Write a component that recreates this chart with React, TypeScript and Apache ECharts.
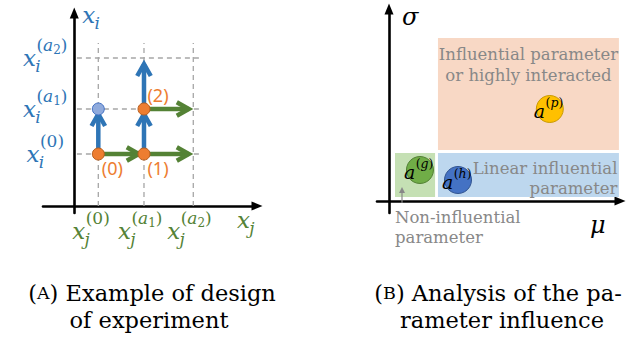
import React, { useEffect, useRef } from 'react';
import * as echarts from 'echarts';

// ---------------- Panel (A): example of design of experiment ----------------
const xjLevels = [1.0, 2.9, 4.95];            // x_j^(0), x_j^(a1), x_j^(a2)
const xiLevels = [1.04, 1.94, 2.96];          // x_i^(0), x_i^(a1), x_i^(a2)
const xjTickSup = ['(0)', '(a_1)', '(a_2)'];
const xiTickSup = ['(0)', '(a_1)', '(a_2)'];
const designPoints = [[1.0, 1.04], [2.9, 1.04], [2.9, 1.94]];
const designLabels = ['(0)', '(1)', '(2)'];
const skippedPoints = [[1.0, 1.94]];
const blueArrows = [[1.0, 1.04, 1.0, 1.92], [2.9, 1.04, 2.9, 1.92], [2.9, 1.94, 2.9, 2.92]];
const greenArrows = [[1.0, 1.04, 2.85, 1.04], [2.9, 1.04, 4.93, 1.04], [2.9, 1.94, 4.93, 1.94]];
const guideTopA = 3.26;
const guideLeftA = 0.11;
const guideRightA = 5.35;
const xRangeA = [-1.3, 7.6];
const yRangeA = [-0.14, 3.86];

// ---------------- Panel (B): analysis of the parameter influence ----------------
const regionLabels = ['Influential parameter\nor highly interacted', 'Linear influential\nparameter', 'Non-influential\nparameter'];
const regionMu = [[2.04, 9.58], [2.04, 9.58], [0.25, 1.92]];
const regionSigma = [[2.55, 8.15], [0.2, 2.4], [0.2, 2.4]];
const paramNames = ['p', 'g', 'h'];
const paramMu = [6.7, 1.29, 2.875];
const paramSigma = [4.6, 1.55, 1.05];
const xRangeB = [-0.5, 9.625];
const yRangeB = [-0.6, 9.6];

const captionA = ['Example of design', 'of experiment'];
const captionB = ['Analysis of the pa-', 'rameter influence'];

// ---------------- styles ----------------
const BLUE = '#2E75B6';
const GREEN = '#548235';
const ORANGE = '#ED7D31';
const GREY = '#888888';
const REGION_FILL = ['#F8D8C5', '#BDD7EE', '#C5E0B4'];
const PARAM_FILL = ['#FFC000', '#70AD47', '#4472C4'];
const PARAM_EDGE = ['#C99A00', '#507E32', '#2F528F'];
const MATH = 'DejaVu Serif';
const TEXT = 'DejaVu Serif';

type F = { size: number; italic: boolean; family: string };
let measureCtx: CanvasRenderingContext2D | null = null;
function tw(text: string, f: F) {
  if (!measureCtx) measureCtx = document.createElement('canvas').getContext('2d');
  measureCtx!.font = `${f.italic ? 'italic ' : ''}${f.size}px "${f.family}"`;
  return measureCtx!.measureText(text).width;
}
function fontOf(size: number, italic: boolean): F {
  return { size, italic, family: MATH };
}
function txt(text: string, x: number, y: number, f: F, color: string, align = 'left', va = 'middle', extra: any = {}) {
  return {
    type: 'text', x, y,
    style: {
      text, fontSize: f.size, fontFamily: f.family, fontStyle: f.italic ? 'italic' : 'normal',
      fill: color, align, verticalAlign: va, ...extra,
    },
  };
}
function scriptPieces(str: string, size: number, x0: number, y0: number, color: string) {
  const els: any[] = [];
  let x = x0;
  for (let k = 0; k < str.length; k++) {
    let ch = str[k];
    if (ch === '_') {
      ch = str[++k];
      const f = fontOf(Math.round(size * 0.7), false);
      els.push(txt(ch, x, y0 + size * 0.3, f, color));
      x += tw(ch, f);
      continue;
    }
    const it = /[a-z]/i.test(ch);
    const f = fontOf(size, it);
    els.push(txt(ch, x, y0, f, color));
    x += tw(ch, f);
  }
  return { els, width: x - x0 };
}
type Spec = { base: string; sub: string; sup: string; color: string; B: number; S: number; supDy: number; align: 'left' | 'center'; dx: number; dy: number };
function mathLabel(spec: Spec) {
  const fb = fontOf(spec.B, true);
  const wb = tw(spec.base, fb);
  const els: any[] = [txt(spec.base, 0, 0, fb, spec.color)];
  let w = wb;
  if (spec.sub) {
    const fs = fontOf(spec.S, true);
    els.push(txt(spec.sub, wb - spec.B * 0.03, spec.B * 0.33, fs, spec.color));
    w = Math.max(w, wb + tw(spec.sub, fs));
  }
  if (spec.sup) {
    const r = scriptPieces(spec.sup, spec.S, wb + spec.B * 0.02, -spec.B * spec.supDy, spec.color);
    els.push(...r.els);
    w = Math.max(w, wb + spec.B * 0.02 + r.width);
  }
  const shift = spec.align === 'center' ? -w / 2 : 0;
  return { type: 'group', x: spec.dx + shift, y: spec.dy, children: els };
}

function arrowRender(color: string) {
  return (params: any, api: any) => {
    const s = api.coord([api.value(0), api.value(1)]);
    const e = api.coord([api.value(2), api.value(3)]);
    const dx = e[0] - s[0], dy = e[1] - s[1];
    const len = Math.hypot(dx, dy);
    const ux = dx / len, uy = dy / len;
    const vx = e[0] - ux * 4, vy = e[1] - uy * 4;
    const head = 12, half = 6.8;
    const bx = vx - ux * head, by = vy - uy * head;
    const px = -uy, py = ux;
    return {
      type: 'group',
      children: [
        { type: 'line', shape: { x1: s[0], y1: s[1], x2: vx, y2: vy }, style: { stroke: color, lineWidth: 4.5 } },
        {
          type: 'polyline',
          shape: { points: [[bx + px * half, by + py * half], [vx, vy], [bx - px * half, by - py * half]] },
          style: { stroke: color, lineWidth: 4.5, fill: null, lineJoin: 'miter' },
        },
      ],
    };
  };
}

function axisCommon(extra: any) {
  return {
    type: 'value',
    axisLine: { show: true, onZero: true, lineStyle: { color: '#000', width: 2.6 }, symbol: ['none', 'triangle'], symbolSize: [9, 11] },
    axisTick: { show: false },
    axisLabel: { show: false },
    splitLine: { show: false },
    ...extra,
  };
}

export default function App() {
  const ref = useRef<HTMLDivElement>(null);
  useEffect(() => {
    if (!ref.current) return;
    const chart = echarts.init(ref.current, undefined, { renderer: 'svg' });

    const specsA: { at: number[]; spec: Spec }[] = [
      ...xiLevels.map((v, i) => ({ at: [0, v], spec: { base: 'x', sub: 'i', sup: xiTickSup[i], color: BLUE, B: 23, S: 17, supDy: 0.55, align: 'center' as const, dx: -29, dy: 0 } })),
      ...xjLevels.map((v, i) => ({ at: [v, 0], spec: { base: 'x', sub: 'j', sup: xjTickSup[i], color: GREEN, B: 23, S: 17, supDy: 0.55, align: 'left' as const, dx: -26, dy: 25 } })),
      { at: [0, yRangeA[1]], spec: { base: 'x', sub: 'i', sup: '', color: BLUE, B: 23, S: 17, supDy: 0.55, align: 'left', dx: 8, dy: 2 } },
      { at: [xRangeA[1], 0], spec: { base: 'x', sub: 'j', sup: '', color: GREEN, B: 23, S: 17, supDy: 0.55, align: 'left', dx: -20, dy: 14 } },
    ];
    const specsB: { at: number[]; spec: Spec }[] = [
      { at: [0, yRangeB[1]], spec: { base: 'σ', sub: '', sup: '', color: '#000', B: 24, S: 16, supDy: 0.5, align: 'left', dx: 13, dy: 8 } },
      { at: [xRangeB[1], 0], spec: { base: 'μ', sub: '', sup: '', color: '#000', B: 24, S: 16, supDy: 0.5, align: 'left', dx: -30, dy: 24 } },
      ...paramNames.map((n, i) => ({ at: [paramMu[i], paramSigma[i]], spec: { base: 'a', sub: '', sup: '(' + n + ')', color: '#000', B: 19, S: 12.5, supDy: 0.45, align: 'left' as const, dx: -16, dy: 2 } })),
    ];

    const labelSeries = (specs: { at: number[]; spec: Spec }[], idx: number) => ({
      type: 'custom',
      xAxisIndex: idx,
      yAxisIndex: idx,
      clip: false,
      z: 10,
      data: specs.map((s) => s.at),
      encode: { x: 0, y: 1 },
      renderItem: (params: any, api: any) => {
        const p = api.coord([api.value(0), api.value(1)]);
        const g: any = mathLabel(specs[params.dataIndex].spec);
        return { type: 'group', x: p[0], y: p[1], children: [g] };
      },
    });

    const guides = [
      ...xjLevels.map((v) => [v, 0, v, guideTopA]),
      ...xiLevels.map((v) => [guideLeftA, v, guideRightA, v]),
    ];

    const textF: F = { size: 16.5, italic: false, family: TEXT };
    const CAP = 22.5;
    const capText = (t: string, x: number, y: number) => ({
      type: 'text', x, y,
      style: { text: t, fontSize: CAP, fontFamily: TEXT, fill: '#000', align: 'center', verticalAlign: 'middle' },
    });
    const capRich = (letter: string, t: string, x: number, y: number) => ({
      type: 'text', x, y,
      style: {
        text: '{p|(}{s|' + letter + '}{p|) ' + t + '}',
        rich: { p: { fontSize: CAP, fontFamily: TEXT, fill: '#000' }, s: { fontSize: 17.5, fontFamily: TEXT, fill: '#000' } },
        fontSize: CAP, fontFamily: TEXT, fill: '#000',
        align: 'center', verticalAlign: 'middle',
      },
    });

    const option: any = {
      animation: false,
      grid: [
        { left: 43, top: 13, width: 214, height: 200 },
        { left: 377, top: 9, width: 243, height: 204 },
      ],
      xAxis: [
        axisCommon({ gridIndex: 0, min: xRangeA[0], max: xRangeA[1] }),
        axisCommon({ gridIndex: 1, min: xRangeB[0], max: xRangeB[1] }),
      ],
      yAxis: [
        axisCommon({ gridIndex: 0, min: yRangeA[0], max: yRangeA[1] }),
        axisCommon({ gridIndex: 1, min: yRangeB[0], max: yRangeB[1] }),
      ],
      series: [
        {
          type: 'custom', xAxisIndex: 0, yAxisIndex: 0, clip: false, z: 1,
          data: guides, encode: { x: [0, 2], y: [1, 3] },
          renderItem: (params: any, api: any) => {
            const s = api.coord([api.value(0), api.value(1)]);
            const e = api.coord([api.value(2), api.value(3)]);
            return { type: 'line', shape: { x1: s[0], y1: s[1], x2: e[0], y2: e[1] }, style: { stroke: '#A6A6A6', lineWidth: 1.3, lineDash: [5, 4] } };
          },
        },
        {
          type: 'custom', xAxisIndex: 0, yAxisIndex: 0, clip: false, z: 2,
          data: blueArrows, encode: { x: [0, 2], y: [1, 3] }, renderItem: arrowRender(BLUE),
        },
        {
          type: 'custom', xAxisIndex: 0, yAxisIndex: 0, clip: false, z: 2,
          data: greenArrows, encode: { x: [0, 2], y: [1, 3] }, renderItem: arrowRender(GREEN),
        },
        {
          type: 'scatter', xAxisIndex: 0, yAxisIndex: 0, z: 4, symbolSize: 12,
          data: skippedPoints,
          itemStyle: { color: '#8FAADC', borderColor: '#4472C4', borderWidth: 1, opacity: 1 },
        },
        {
          type: 'scatter', xAxisIndex: 0, yAxisIndex: 0, z: 4, symbolSize: 12,
          // the last design point sits on the upper level: its label goes above it
          data: designPoints.map((p, i) => ({ value: p, label: { offset: i === designPoints.length - 1 ? [14, -14] : [14, 14] } })),
          itemStyle: { color: ORANGE, borderColor: '#B85F1F', borderWidth: 1, opacity: 1 },
          label: {
            show: true, position: 'inside',
            formatter: (p: any) => designLabels[p.dataIndex],
            color: ORANGE, fontSize: 18, fontFamily: 'Noto Sans',
          },
        },
        labelSeries(specsA, 0),
        {
          type: 'custom', xAxisIndex: 1, yAxisIndex: 1, clip: false, z: 1,
          data: regionMu.map((m, i) => [m[0], m[1], regionSigma[i][0], regionSigma[i][1]]),
          encode: { x: [0, 1], y: [2, 3] },
          renderItem: (params: any, api: any) => {
            const i = params.dataIndex;
            const tl = api.coord([api.value(0), api.value(3)]);
            const br = api.coord([api.value(1), api.value(2)]);
            const children: any[] = [
              { type: 'rect', shape: { x: tl[0], y: tl[1], width: br[0] - tl[0], height: br[1] - tl[1] }, style: { fill: REGION_FILL[i] } },
            ];
            if (i === 0) {
              children.push(txt(regionLabels[i], (tl[0] + br[0]) / 2, tl[1] + 5.5, textF, GREY, 'center', 'top', { lineHeight: 21 }));
            } else if (i === 1) {
              children.push(txt(regionLabels[i], br[0] - 1.5, tl[1] + 5, textF, GREY, 'right', 'top', { lineHeight: 20 }));
            } else {
              children.push(txt(regionLabels[i], tl[0], br[1] + 10.5, textF, GREY, 'left', 'top', { lineHeight: 20 }));
              const ax = tl[0] + 7;
              children.push({ type: 'line', shape: { x1: ax, y1: br[1] + 6, x2: ax, y2: br[1] - 6 }, style: { stroke: GREY, lineWidth: 1.2 } });
              children.push({ type: 'polygon', shape: { points: [[ax, br[1] - 10], [ax - 3, br[1] - 4], [ax + 3, br[1] - 4]] }, style: { fill: GREY } });
            }
            return { type: 'group', children };
          },
        },
        {
          type: 'scatter', xAxisIndex: 1, yAxisIndex: 1, z: 4, symbolSize: 27,
          data: paramMu.map((m, i) => ({
            value: [m, paramSigma[i]],
            itemStyle: { color: PARAM_FILL[i], borderColor: PARAM_EDGE[i], borderWidth: 1, opacity: 1 },
          })),
        },
        labelSeries(specsB, 1),
      ],
      graphic: [
        capRich('A', captionA[0], 152, 293),
        capText(captionA[1], 149, 320),
        capRich('B', captionB[0], 498, 293),
        capText(captionB[1], 502, 320),
      ],
    };
    chart.setOption(option);
    return () => chart.dispose();
  }, []);
  return <div ref={ref} style={{ position: 'fixed', left: 0, top: 0, width: 635, height: 340, background: '#fff' }} />;
}
